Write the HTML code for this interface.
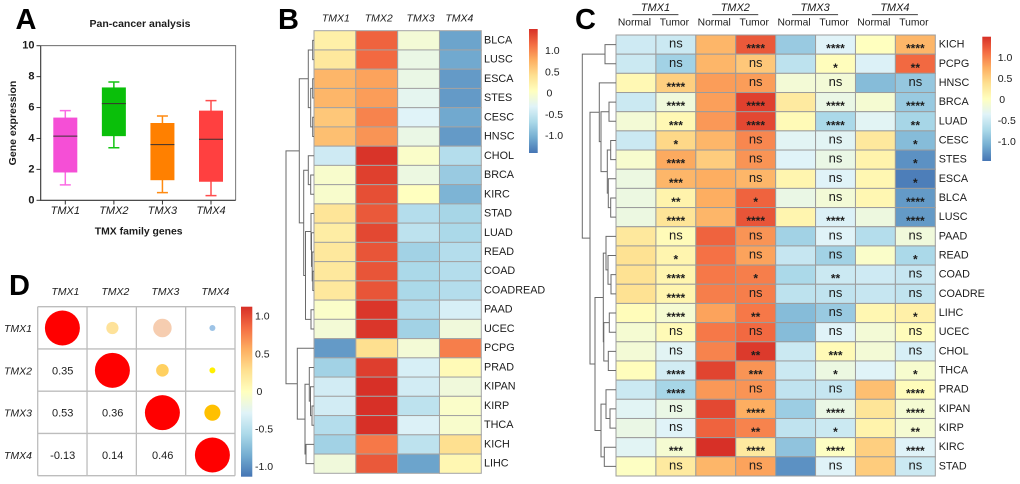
<!DOCTYPE html>
<html lang="en">
<head>
<meta charset="utf-8">
<title>TMX family gene expression panels</title>
<style>
html,body{margin:0;padding:0;background:#fff;width:1020px;height:484px;overflow:hidden}
svg{display:block}
text{font-family:"Liberation Sans",Arial,sans-serif;fill:#1c1c1c}
</style>
</head>
<body>
<svg id="root" xmlns="http://www.w3.org/2000/svg" width="1020" height="484" viewBox="0 0 1020 484">
  <defs>
    <linearGradient id="legendGrad" x1="0" y1="1" x2="0" y2="0">
      <stop offset="0" stop-color="#4575b4"/>
      <stop offset="0.125" stop-color="#74add1"/>
      <stop offset="0.25" stop-color="#abd9e9"/>
      <stop offset="0.375" stop-color="#e0f3f8"/>
      <stop offset="0.5" stop-color="#ffffbf"/>
      <stop offset="0.625" stop-color="#fee090"/>
      <stop offset="0.75" stop-color="#fdae61"/>
      <stop offset="0.875" stop-color="#f46d43"/>
      <stop offset="1" stop-color="#d73027"/>
    </linearGradient>
  </defs>
  <text x="15.5" y="29" font-size="29" font-weight="700" style="fill:#000">A</text>
  <text x="278" y="29" font-size="29" font-weight="700" style="fill:#000">B</text>
  <text x="575" y="29" font-size="29" font-weight="700" style="fill:#000">C</text>
  <text x="9" y="295" font-size="29" font-weight="700" style="fill:#000">D</text>
  <g id="panelA"></g>
  <g id="panelB"></g>
  <g id="panelC"></g>
  <g id="panelD"></g>
</svg>
<script>
/* ---------- Shared data ---------- */
const genes = ['TMX1','TMX2','TMX3','TMX4'];

/* ---------- Panel A data ---------- */
const boxMin    = [1.0, 3.4, 0.5, 0.3];
const boxQ1     = [1.8, 4.15, 1.3, 1.2];
const boxMedian = [4.15, 6.25, 3.6, 3.95];
const boxQ3     = [5.35, 7.3, 5.0, 5.8];
const boxMax    = [5.8, 7.65, 5.45, 6.45];
const boxTicks  = [0, 2, 4, 6, 8, 10];

/* ---------- Panel B data ---------- */
const bRows = ['BLCA','LUSC','ESCA','STES','CESC','HNSC','CHOL','BRCA','KIRC','STAD','LUAD','READ','COAD','COADREAD','PAAD','UCEC','PCPG','PRAD','KIPAN','KIRP','THCA','KICH','LIHC'];
const bValues = [
  [0.15,0.95,-0.12,-0.95],
  [0.22,0.92,-0.2,-0.92],
  [0.55,0.65,-0.2,-1.0],
  [0.55,0.68,-0.25,-1.0],
  [0.45,0.8,-0.3,-0.92],
  [0.5,0.72,-0.2,-1.0],
  [-0.4,1.18,-0.05,-0.55],
  [-0.07,1.12,-0.18,-0.7],
  [-0.07,1.05,0.0,-0.85],
  [0.25,1.0,-0.55,-0.62],
  [0.17,1.08,-0.5,-0.6],
  [0.22,1.02,-0.65,-0.55],
  [0.22,1.02,-0.6,-0.55],
  [0.22,1.02,-0.6,-0.55],
  [-0.05,1.17,-0.55,-0.35],
  [-0.12,1.17,-0.65,-0.15],
  [-1.0,0.3,-0.12,0.82],
  [-0.65,1.13,-0.35,0.05],
  [-0.38,1.2,-0.38,-0.15],
  [-0.38,1.2,-0.5,-0.05],
  [-0.55,1.2,-0.32,-0.07],
  [-0.65,0.85,-0.5,0.3],
  [-0.15,1.0,-0.95,0.08]
];
const legendTicks = [1.0, 0.5, 0, -0.5, -1.0];
const legendTickLabels = ['1.0','0.5','0','-0.5','-1.0'];
/* dendrogram: [merge height, left, right]; numbers are row indices */
const bTree = [28,
  [14.7,
    [5.7,[1.3,0,1],[3.3,[1.3,2,3],[1.3,4,5]]],
    [10.3,[5.7,6,[3.3,7,8]],[8.5,[3,9,[2.5,10,[1.8,11,[1.2,12,13]]]],[3,14,15]]]
  ],
  [16.7,16,[9,[4.7,17,[3.5,18,[2,19,20]]],[8,21,22]]]
];

/* ---------- Panel C data ---------- */
const cRows = ['KICH','PCPG','HNSC','BRCA','LUAD','CESC','STES','ESCA','BLCA','LUSC','PAAD','READ','COAD','COADRE','LIHC','UCEC','CHOL','THCA','PRAD','KIPAN','KIRP','KIRC','STAD'];
const cValues = [
  [-0.4,-0.42,0.55,1.0,-0.7,-0.3,0.0,0.55],
  [-0.42,-0.65,0.55,0.45,-0.5,0.02,-0.32,0.92],
  [0.07,0.4,0.68,0.68,-0.12,-0.12,-0.8,-0.72],
  [-0.42,-0.15,0.67,1.12,0.2,-0.2,-0.1,-0.7],
  [-0.12,0.07,0.7,1.08,0.05,-0.6,-0.28,-0.62],
  [-0.42,0.35,0.55,0.78,-0.28,-0.28,0.22,-0.8],
  [-0.08,0.62,0.42,0.72,-0.3,-0.2,0.12,-1.05],
  [-0.18,0.55,0.6,0.55,0.1,-0.3,0.08,-1.15],
  [-0.18,0.12,0.6,0.95,-0.2,-0.12,0.08,-1.0],
  [-0.18,0.25,0.55,1.02,0.1,-0.32,-0.17,-1.0],
  [0.22,0.04,0.95,0.72,-0.65,-0.3,-0.55,-0.15],
  [0.28,0.1,0.88,0.65,-0.45,-0.65,-0.05,-0.6],
  [0.28,0.1,0.85,0.82,-0.6,-0.42,-0.4,-0.45],
  [0.28,0.1,0.82,0.82,-0.5,-0.48,-0.45,-0.48],
  [0.03,-0.1,0.65,0.85,-0.8,-0.7,0.08,0.15],
  [-0.1,0.05,0.85,0.92,-0.8,-0.3,-0.12,0.03],
  [-0.12,-0.28,0.8,1.15,-0.42,0.05,-0.12,-0.35],
  [0.02,-0.38,1.1,0.72,-0.42,-0.18,-0.3,-0.08],
  [-0.42,-0.62,0.7,0.72,-0.48,-0.45,0.5,0.03],
  [-0.28,-0.2,1.08,0.6,-0.68,-0.2,0.25,-0.1],
  [-0.2,-0.3,0.95,0.8,-0.48,-0.42,0.12,-0.1],
  [-0.28,-0.1,1.22,0.2,-0.75,-0.02,0.4,-0.3],
  [-0.02,0.2,0.55,0.65,-1.05,-0.3,0.42,-0.42]
];
/* significance for the four Tumor columns */
const cSig = [
  ['ns','****','****','****'],
  ['ns','ns','*','**'],
  ['****','ns','ns','ns'],
  ['****','****','****','****'],
  ['***','****','****','**'],
  ['*','ns','ns','*'],
  ['****','ns','ns','*'],
  ['***','ns','ns','*'],
  ['**','*','ns','****'],
  ['****','****','****','****'],
  ['ns','ns','ns','ns'],
  ['*','ns','ns','*'],
  ['****','*','**','ns'],
  ['****','ns','ns','ns'],
  ['****','**','ns','*'],
  ['ns','ns','ns','ns'],
  ['ns','**','***','ns'],
  ['****','***','*','*'],
  ['****','ns','ns','****'],
  ['ns','****','****','****'],
  ['ns','**','*','**'],
  ['***','****','****','****'],
  ['ns','ns','ns','ns']
];
const cTree = [33.7,
  [11,0,1],
  [26,
    [16.7,2,[15,[7,3,4],[8.7,[5.3,5,6],[7.7,7,[5.3,8,9]]]]],
    [21,
      [12.7,[10,10,[8,11,[5,12,13]]],[12.2,[6.7,14,15],[7.7,16,17]]],
      [15,[10,18,[6,19,20]],[11.7,21,22]]
    ]
  ]
];

/* ---------- Panel D data ---------- */
const corrValues = [
  [1,0.35,0.53,-0.13],
  [0.35,1,0.36,0.14],
  [0.53,0.36,1,0.46],
  [-0.13,0.14,0.46,1]
];
const corrFills = [
  ['#ff0000','#fee29a','#f6cdb0','#9dc3e6'],
  ['','#ff0000','#ffd060','#fff000'],
  ['','','#ff0000','#ffc000'],
  ['','','','#ff0000']
];

/* ---------- Helpers ---------- */
const NS = 'http://www.w3.org/2000/svg';
function mk(tag, parent, attrs, txt) {
  const el = document.createElementNS(NS, tag);
  for (const k in attrs) el.setAttribute(k, attrs[k]);
  if (txt !== undefined) el.textContent = txt;
  parent.appendChild(el);
  return el;
}
function linear(d0, d1, r0, r1) {
  return v => r0 + (v - d0) * (r1 - r0) / (d1 - d0);
}
const paletteStops = ['#4575b4','#74add1','#abd9e9','#e0f3f8','#ffffbf','#fee090','#fdae61','#f46d43','#d73027'];
function hexRgb(h) { return [1,3,5].map(i => parseInt(h.substr(i,2),16)); }
function heatColor(v) {
  const t = Math.max(0, Math.min(1, (v + 1.2) / 2.4)) * (paletteStops.length - 1);
  const i = Math.min(paletteStops.length - 2, Math.floor(t));
  const f = t - i;
  const a = hexRgb(paletteStops[i]), b = hexRgb(paletteStops[i+1]);
  const c = a.map((x, n) => Math.round(x + (b[n] - x) * f));
  return 'rgb(' + c.join(',') + ')';
}
function drawTree(parent, node, leafX, rowY, name) {
  if (typeof node === 'number') return { y: rowY(node), x: leafX };
  const l = drawTree(parent, node[1], leafX, rowY, name);
  const r = drawTree(parent, node[2], leafX, rowY, name);
  const x = leafX - node[0];
  const p = mk('path', parent, {
    d: 'M' + l.x + ' ' + l.y + 'H' + x + 'V' + r.y + 'H' + r.x,
    fill: 'none', stroke: '#6a6a6a', 'stroke-width': 1
  });
  
  
  return { y: (l.y + r.y) / 2, x: x };
}
function drawLegend(parent, x, w, top, bottom, tickY, labelX, fs) {
  const bar = mk('rect', parent, { x: x, y: top, width: w, height: bottom - top, fill: 'url(#legendGrad)' });
  
  
  legendTicks.forEach((t, i) => {
    const lx = legendTickLabels[i] === '0' ? labelX + 1.5 : labelX;
    const tx = mk('text', parent, { x: lx, y: tickY(t), 'font-size': fs, 'dominant-baseline': 'central' }, legendTickLabels[i]);
    
    
  });
}

/* ---------- Panel A ---------- */
(function () {
  const g = document.getElementById('panelA');
  const yA = linear(0, 10, 200.3, 45.7);
  const xA = linear(0, 3, 65.3, 211);
  const fills = ['#f54fd6','#0abf0a','#ff8000','#ff4040'];
  const strokes = ['#fb6be4','#12c412','#ff8a10','#ff4d4d'];
  const boxW = 24, capW = 11;

  const title = mk('text', g, { x: 140, y: 24, 'font-size': 10.5, 'font-weight': 700, 'text-anchor': 'middle', 'dominant-baseline': 'central' }, 'Pan-cancer analysis');
  
  

  const frame = mk('path', g, { d: 'M40.7 45.7H235.7V200.3', fill: 'none', stroke: '#555', 'stroke-width': 0.8 });
  
  

  genes.forEach((name, i) => {
    const cx = xA(i);
    const wh = mk('path', g, {
      d: 'M' + (cx - capW/2) + ' ' + yA(boxMax[i]) + 'H' + (cx + capW/2) + 'M' + cx + ' ' + yA(boxMax[i]) + 'V' + yA(boxMin[i]) + 'M' + (cx - capW/2) + ' ' + yA(boxMin[i]) + 'H' + (cx + capW/2),
      fill: 'none', stroke: strokes[i], 'stroke-width': 1.5
    });
    
    
    const box = mk('rect', g, { x: cx - boxW/2, y: yA(boxQ3[i]), width: boxW, height: yA(boxQ1[i]) - yA(boxQ3[i]), fill: fills[i] });
    
    
    const med = mk('line', g, { x1: cx - boxW/2, x2: cx + boxW/2, y1: yA(boxMedian[i]), y2: yA(boxMedian[i]), stroke: '#3a3030', 'stroke-width': 1 });
    
    
    const tick = mk('line', g, { x1: cx, x2: cx, y1: 200.3, y2: 204.5, stroke: '#333', 'stroke-width': 1 });
    
    
    const lab = mk('text', g, { x: cx, y: 211, 'font-size': 11, 'font-style': 'italic', 'text-anchor': 'middle', 'dominant-baseline': 'central' }, name);
    
    
  });

  const axis = mk('path', g, { d: 'M40.7 45.7V200.3H235.7', fill: 'none', stroke: '#333', 'stroke-width': 1.1 });
  
  

  boxTicks.forEach(t => {
    const tk = mk('line', g, { x1: 36.5, x2: 40.7, y1: yA(t), y2: yA(t), stroke: '#333', 'stroke-width': 1 });
    
    
    const tl = mk('text', g, { x: 34.5, y: yA(t), 'font-size': 11, 'font-weight': 700, 'text-anchor': 'end', 'dominant-baseline': 'central' }, String(t));
    
    
  });

  const yt = mk('text', g, { x: 0, y: 0, 'font-size': 10.5, 'font-weight': 700, 'text-anchor': 'middle', 'dominant-baseline': 'central', transform: 'translate(13,123) rotate(-90)' }, 'Gene expression');
  
  
  const xt = mk('text', g, { x: 138.7, y: 232, 'font-size': 10.4, 'font-weight': 700, 'text-anchor': 'middle', 'dominant-baseline': 'central' }, 'TMX family genes');
  
  
})();

/* ---------- Panel B ---------- */
(function () {
  const g = document.getElementById('panelB');
  const left = 314, right = 481.3, top = 30.7, bottom = 473.3;
  const cw = (right - left) / genes.length;
  const rh = (bottom - top) / bRows.length;
  const rowY = i => top + rh * (i + 0.5);

  genes.forEach((name, j) => {
    const t = mk('text', g, { x: left + cw * (j + 0.5) + [1,2,2,-1][j], y: 18.5, 'font-size': 10.5, 'font-style': 'italic', 'text-anchor': 'middle', 'dominant-baseline': 'central' }, name);
    
    
  });
  bRows.forEach((row, i) => {
    bValues[i].forEach((v, j) => {
      const c = mk('rect', g, { x: left + cw * j, y: top + rh * i, width: cw, height: rh, fill: heatColor(v), stroke: '#a3a3a3', 'stroke-width': 1 });
      
      
    });
    const t = mk('text', g, { x: 484, y: rowY(i), 'font-size': 10.8, 'dominant-baseline': 'central' }, row);
    
    
  });
  drawTree(g, bTree, left, rowY, 'dendrogram-branch');
  drawLegend(g, 529, 8.7, 29, 153, linear(-1, 1, 136, 51), 545, 10.5);
})();

/* ---------- Panel C ---------- */
(function () {
  const g = document.getElementById('panelC');
  const left = 616, right = 935.3, top = 35, bottom = 476;
  const cw = (right - left) / 8;
  const rh = (bottom - top) / cRows.length;
  const rowY = i => top + rh * (i + 0.5);

  genes.forEach((name, j) => {
    const cx = left + cw * (2 * j + 1) - 0.5;
    const t = mk('text', g, { x: cx, y: 8, 'font-size': 11, 'font-style': 'italic', 'text-anchor': 'middle', 'dominant-baseline': 'central' }, name);
    
    
    const ln = mk('line', g, { x1: cx - 23, x2: cx + 23, y1: 14.7, y2: 14.7, stroke: '#222', 'stroke-width': 0.9 });
    
    
    const n = mk('text', g, { x: cx - 21, y: 23, 'font-size': 10.3, 'text-anchor': 'middle', 'dominant-baseline': 'central' }, 'Normal');
    
    
    const m = mk('text', g, { x: cx + 19, y: 23, 'font-size': 10.3, 'text-anchor': 'middle', 'dominant-baseline': 'central' }, 'Tumor');
    
    
  });

  cRows.forEach((row, i) => {
    cValues[i].forEach((v, j) => {
      const c = mk('rect', g, { x: left + cw * j, y: top + rh * i, width: cw, height: rh, fill: heatColor(v), stroke: '#9c9c9c', 'stroke-width': 1 });
      
      
    });
    cSig[i].forEach((s, k) => {
      const cx = left + cw * (2 * k + 1.5);
      const ns = s === 'ns';
      const t = mk('text', g, {
        x: cx, y: ns ? rowY(i) + 3 : rowY(i) + 8,
        'font-size': ns ? 13 : 12, 'font-weight': ns ? 400 : 700, 'text-anchor': 'middle'
      }, s);
      
      
    });
    const t = mk('text', g, { x: 938.7, y: rowY(i), 'font-size': 10.8, 'dominant-baseline': 'central' }, row);
    
    
  });
  drawTree(g, cTree, left, rowY, 'dendrogram-branch');
  drawLegend(g, 982.3, 8.7, 36.7, 161, linear(-1, 1, 142, 58), 997.7, 10.5);
})();

/* ---------- Panel D ---------- */
(function () {
  const g = document.getElementById('panelD');
  const left = 37.7, right = 235, top = 306.7, bottom = 475.7;
  const cw = (right - left) / 4, rh = (bottom - top) / 4;
  const xD = linear(0, 3, 62.4, 212.4);
  const yD = linear(0, 3, 328, 455);
  const rScale = v => Math.max(3, 17.5 * Math.abs(v));

  for (let k = 0; k <= 4; k++) {
    const v = mk('line', g, { x1: left + cw * k, x2: left + cw * k, y1: top, y2: bottom, stroke: '#bdbdbd', 'stroke-width': 1.3 });
    
    
    const h = mk('line', g, { x1: left, x2: right, y1: top + rh * k, y2: top + rh * k, stroke: '#bdbdbd', 'stroke-width': 1.3 });
    
    
  }
  genes.forEach((name, i) => {
    const t = mk('text', g, { x: xD(i) + 3, y: 292, 'font-size': 10.5, 'font-style': 'italic', 'text-anchor': 'middle', 'dominant-baseline': 'central' }, name);
    
    
    const r = mk('text', g, { x: 4, y: yD(i) + 1, 'font-size': 10.5, 'font-style': 'italic', 'dominant-baseline': 'central' }, name);
    
    
  });
  corrValues.forEach((row, i) => {
    row.forEach((v, j) => {
      if (j >= i) {
        const c = mk('circle', g, { cx: xD(j), cy: yD(i), r: rScale(v), fill: corrFills[i][j] });
        
        
      } else {
        const t = mk('text', g, { x: xD(j) + 0.3, y: yD(i) + 1, 'font-size': 11, 'text-anchor': 'middle', 'dominant-baseline': 'central' }, v.toFixed(2));
        
        
      }
    });
  });
  drawLegend(g, 241, 11.3, 306.7, 476.7, linear(-1, 1, 467, 316.7), 255, 10.5);
})();
</script>
</body>
</html>
